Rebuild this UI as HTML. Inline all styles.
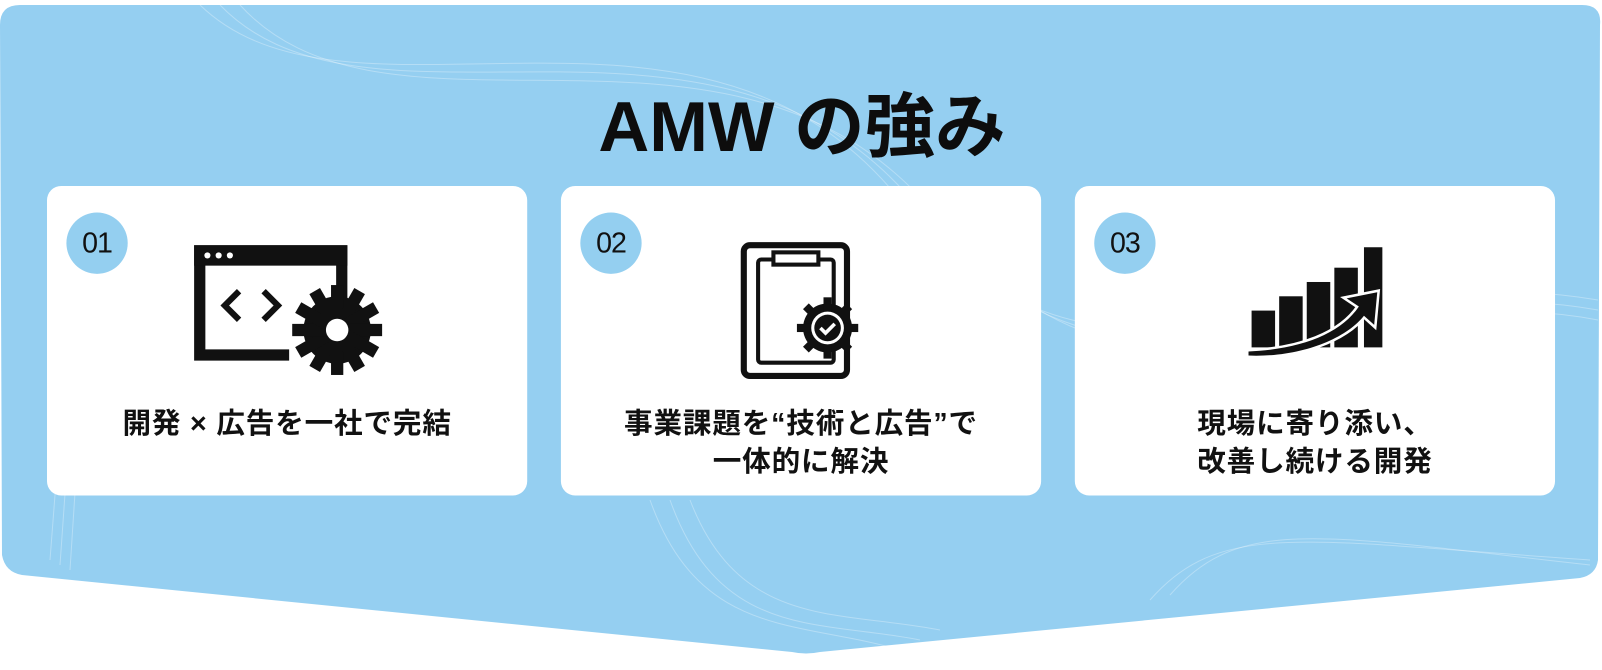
<!DOCTYPE html>
<html><head><meta charset="utf-8"><style>
html,body{margin:0;padding:0;background:#fff;width:1602px;height:656px;overflow:hidden;font-family:"Liberation Sans","Noto Sans CJK JP",sans-serif}
#wrap{position:absolute;left:0;top:0;width:1568px;height:656px;transform:scale(1.0217);transform-origin:0 0}
.card{position:absolute;top:182px;width:470px;height:303px;background:#fff;border-radius:14px}
.num{position:absolute;left:19px;top:26px;width:60px;height:60px;border-radius:50%;background:#94CFF0;font-size:28px;line-height:60px;text-align:center;color:#111;font-weight:500;letter-spacing:-1px}
.txt{position:absolute;left:0;right:0;top:214px;text-align:center;font-size:28px;font-weight:bold;color:#111;line-height:37px;letter-spacing:0.8px}
h1{position:absolute;left:0;width:1570px;top:68px;margin:0;text-align:center;font-size:69px;font-weight:bold;color:#0d0d0d}
</style></head><body>
<svg width="1602" height="656" style="position:absolute;left:0;top:0">
<path d="M0,25 Q0,5 20,5 L1582,5 Q1602,5 1600,25 L1598,560 Q1596,575 1580,578 L820,652 Q806,655 792,652 L22,575 Q5,572 2,555 Z" fill="#95CFF1"/>
<g fill="none" stroke="#ffffff" stroke-opacity="0.3" stroke-width="1">
<path d="M200,5 C350,150 700,-50 900,200 S1300,250 1598,300"/>
<path d="M220,5 C370,160 720,-40 920,210 S1320,260 1598,310"/>
<path d="M240,5 C390,170 740,-30 940,220 S1340,270 1598,320"/>
<path d="M650,500 C700,640 800,620 900,650"/>
<path d="M670,500 C720,640 820,620 920,640"/>
<path d="M690,500 C740,630 840,610 940,630"/>
<path d="M1150,600 C1220,520 1300,540 1590,560"/>
<path d="M1170,595 C1240,515 1320,535 1590,565"/>
<path d="M50,560 L70,300"/><path d="M60,565 L80,280"/><path d="M70,570 L90,260"/>
</g>
</svg>
<div id="wrap">
<h1>AMW の強み</h1>

<div class="card" style="left:46px"><div class="num">01</div>
<svg style="position:absolute;left:0;top:0" width="470" height="303">
<path d="M144,58 h150 v62 h-11 v-44 h-128 v84 h82 v11 h-93 z" fill="#111"/>
<rect x="144" y="58" width="150" height="20" fill="#111"/>
<circle cx="157" cy="68" r="3" fill="#fff"/><circle cx="168" cy="68" r="3" fill="#fff"/><circle cx="179" cy="68" r="3" fill="#fff"/>
<path d="M188,103 l-14,14 l14,14" stroke="#111" stroke-width="6" fill="none"/>
<path d="M212,103 l14,14 l-14,14" stroke="#111" stroke-width="6" fill="none"/>
<g transform="translate(284,141)">
<circle r="33" fill="#111"/>
<g fill="#111"><rect x="-6" y="-44" width="12" height="88"/><rect x="-6" y="-44" width="12" height="88" transform="rotate(30)"/><rect x="-6" y="-44" width="12" height="88" transform="rotate(60)"/><rect x="-6" y="-44" width="12" height="88" transform="rotate(90)"/><rect x="-6" y="-44" width="12" height="88" transform="rotate(120)"/><rect x="-6" y="-44" width="12" height="88" transform="rotate(150)"/></g>
<circle r="11" fill="#fff"/></g>
</svg>
<div class="txt">開発 × 広告を一社で完結</div></div>

<div class="card" style="left:549px"><div class="num">02</div>
<svg style="position:absolute;left:0;top:0" width="470" height="303">
<rect x="179" y="58" width="101" height="128" rx="6" fill="none" stroke="#111" stroke-width="6"/>
<rect x="193" y="72" width="74" height="101" rx="3" fill="none" stroke="#111" stroke-width="4"/>
<rect x="208" y="65" width="44" height="12" fill="#fff" stroke="#111" stroke-width="4"/>
<g transform="translate(261,139)">
<circle r="24" fill="#111"/>
<g fill="#111"><rect x="-4" y="-30" width="8" height="60"/><rect x="-4" y="-30" width="8" height="60" transform="rotate(45)"/><rect x="-4" y="-30" width="8" height="60" transform="rotate(90)"/><rect x="-4" y="-30" width="8" height="60" transform="rotate(135)"/></g>
<circle r="16" fill="#fff"/><circle r="13" fill="#111"/>
<path d="M-7,0 l5,5 l9,-9" stroke="#fff" stroke-width="3.5" fill="none"/></g>
</svg>
<div class="txt">事業課題を“技術と広告”で<br>一体的に解決</div></div>

<div class="card" style="left:1052px"><div class="num">03</div>
<svg style="position:absolute;left:0;top:0" width="470" height="303">
<g fill="#111"><rect x="173" y="122" width="23" height="36"/><rect x="200" y="108" width="23" height="50"/><rect x="227" y="94" width="23" height="64"/><rect x="254" y="80" width="23" height="78"/><rect x="283" y="60" width="18" height="98"/></g>
<path d="M170,162 C220,160 260,145 278,118 l-12,-8 l30,-6 l-3,32 l-10,-9 C265,150 220,168 170,166 z" fill="#111" stroke="#fff" stroke-width="5" paint-order="stroke"/>
</svg>
<div class="txt">現場に寄り添い、<br>改善し続ける開発</div></div>
</div>
</body></html>
